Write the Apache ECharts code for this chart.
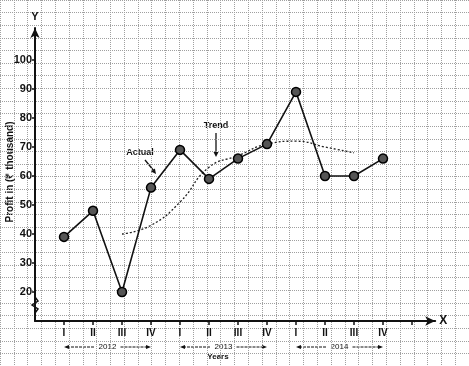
<!DOCTYPE html>
<html><head><meta charset="utf-8">
<script src="https://cdn.jsdelivr.net/npm/echarts@6/dist/echarts.min.js"></script>
<style>html,body{margin:0;padding:0;background:#fff}#c{width:469px;height:366px}</style>
</head><body><div id="c"></div>
<script>
const quarters = ['I','II','III','IV','I','II','III','IV','I','II','III','IV'];
const years = ['2012','2013','2014'];
const actual = [39,48,20,56,69,59,66,71,89,60,60,66];
const trend = [null,null,40,43,51,63,67,71,72,70,68,null];
const yTickValues = [20,30,40,50,60,70,80,90,100];

const FONT = 'Liberation Sans, Arial, sans-serif';
const X0 = 35, Y0 = 321, SX = 29, SY = 2.9; // layout constants
const px = v => X0 + SX * v;

const actualData = actual.map((v, i) => [i + 1, v]);
const trendData = trend.map((v, i) => [i + 1, v]);

function arrowHead(x, y, dx, dy, len, w) {
  const L = Math.hypot(dx, dy); const ux = dx / L, uy = dy / L;
  const bx = x - ux * len, by = y - uy * len;
  return {type:'polygon', shape:{points:[[x,y],[bx - uy*w, by + ux*w],[bx + uy*w, by - ux*w]]}, style:{fill:'#111'}};
}
const graphics = [];
graphics.push({type:'text', x:10, y:172, rotation:Math.PI/2,
  style:{text:'Profit in (₹ thousand)', font:'bold 10px ' + FONT, fill:'#111', align:'center', verticalAlign:'middle'}});
graphics.push({type:'text', x:140, y:153, style:{text:'Actual', font:'bold 9px ' + FONT, fill:'#111', align:'center', verticalAlign:'middle'}});
graphics.push({type:'line', shape:{x1:145,y1:160,x2:154,y2:171}, style:{stroke:'#111', lineWidth:1.3}});
graphics.push(arrowHead(156,174,11,14,5,2.5));
graphics.push({type:'text', x:216, y:126, style:{text:'Trend', font:'bold 9px ' + FONT, fill:'#111', align:'center', verticalAlign:'middle'}});
graphics.push({type:'line', shape:{x1:216,y1:133,x2:216,y2:152}, style:{stroke:'#111', lineWidth:1.3}});
graphics.push(arrowHead(216,157,0,1,5,2.5));
years.forEach((yr, k) => {
  const x1 = px(4*k + 1), x2 = px(4*k + 4), mid = (x1 + x2) / 2, yy = 347;
  graphics.push({type:'line', shape:{x1:x1+3, y1:yy, x2:mid-13, y2:yy}, style:{stroke:'#111', lineWidth:1, lineDash:[3,1]}});
  graphics.push({type:'line', shape:{x1:mid+13, y1:yy, x2:x2-3, y2:yy}, style:{stroke:'#111', lineWidth:1, lineDash:[3,1]}});
  graphics.push(arrowHead(x1, yy, -1, 0, 5, 2));
  graphics.push(arrowHead(x2, yy, 1, 0, 5, 2));
  graphics.push({type:'text', x:mid, y:yy, style:{text:yr, font:'8px ' + FONT, fill:'#111', align:'center', verticalAlign:'middle'}});
});
graphics.push({type:'text', x:218, y:357, style:{text:'Years', font:'bold 8px ' + FONT, fill:'#111', align:'center', verticalAlign:'middle'}});
graphics.push({type:'polyline', shape:{points:[[35,297],[38,301],[32,305],[38,309],[35,313]]}, style:{stroke:'#111', lineWidth:1.5, fill:null}});

const chart = echarts.init(document.getElementById('c'), null, {renderer:'canvas'});
chart.setOption({
  animation:false,
  backgroundColor:'#fff',
  grid:[
    {left: X0 - 1.5*SX, right: 469 - (X0 - 1.5*SX) - 17*SX, top: Y0 - 115*SY, bottom: 366 - (Y0 + 20*SY), show:false},
    {left: X0, right: 469 - X0 - 13.8*SX, top: Y0 - 101*SY, bottom: 366 - Y0, show:false}
  ],
  xAxis:[
    {gridIndex:0, type:'value', min:-1.5, max:15.5, interval:0.5,
     axisLine:{show:false}, axisTick:{show:false}, axisLabel:{show:false},
     splitLine:{show:true, lineStyle:{color:'#a0a0a0', type:'dotted', width:1}}},
    {gridIndex:1, type:'value', min:0, max:13.8, interval:1,
     name:'X', nameLocation:'end', nameGap:4,
     nameTextStyle:{fontFamily:FONT, fontSize:12, fontWeight:'bold', color:'#111'},
     axisLine:{show:true, lineStyle:{color:'#111', width:2}, symbol:['none','arrow'], symbolSize:[7,10]},
     axisTick:{show:true, length:4, inside:false, lineStyle:{color:'#111', width:1.5}, customValues:[1,2,3,4,5,6,7,8,9,10,11,12,13]},
     axisLabel:{show:true, margin:7, fontFamily:FONT, fontSize:10, fontWeight:'bold', color:'#111',
       customValues:[1,2,3,4,5,6,7,8,9,10,11,12],
       formatter: v => quarters[Math.round(v) - 1] || ''},
     splitLine:{show:false}}
  ],
  yAxis:[
    {gridIndex:0, type:'value', min:-20, max:125, interval:5,
     axisLine:{show:false}, axisTick:{show:false}, axisLabel:{show:false},
     splitLine:{show:true, lineStyle:{color:'#a0a0a0', type:'dotted', width:1}}},
    {gridIndex:1, type:'value', min:10, max:111, interval:10,
     name:'Y', nameLocation:'end', nameGap:6,
     nameTextStyle:{fontFamily:FONT, fontSize:11, fontWeight:'bold', color:'#111', align:'center'},
     axisLine:{show:true, lineStyle:{color:'#111', width:2}, symbol:['none','arrow'], symbolSize:[7,10]},
     axisTick:{show:true, length:3, lineStyle:{color:'#111', width:1.5}, customValues:yTickValues},
     axisLabel:{show:true, margin:3, fontFamily:FONT, fontSize:11, fontWeight:'bold', color:'#111', customValues:yTickValues},
     splitLine:{show:false}}
  ],
  series:[
    {name:'Trend', type:'line', xAxisIndex:1, yAxisIndex:1, data:trendData, smooth:true,
     showSymbol:false, lineStyle:{color:'#222', width:1.3, type:[2,2]}, z:3},
    {name:'Actual', type:'line', xAxisIndex:1, yAxisIndex:1, data:actualData,
     symbol:'circle', symbolSize:9, itemStyle:{color:'#555', borderColor:'#000', borderWidth:1.5},
     lineStyle:{color:'#111', width:1.6}, z:4}
  ],
  graphic: graphics
});
</script></body></html>
